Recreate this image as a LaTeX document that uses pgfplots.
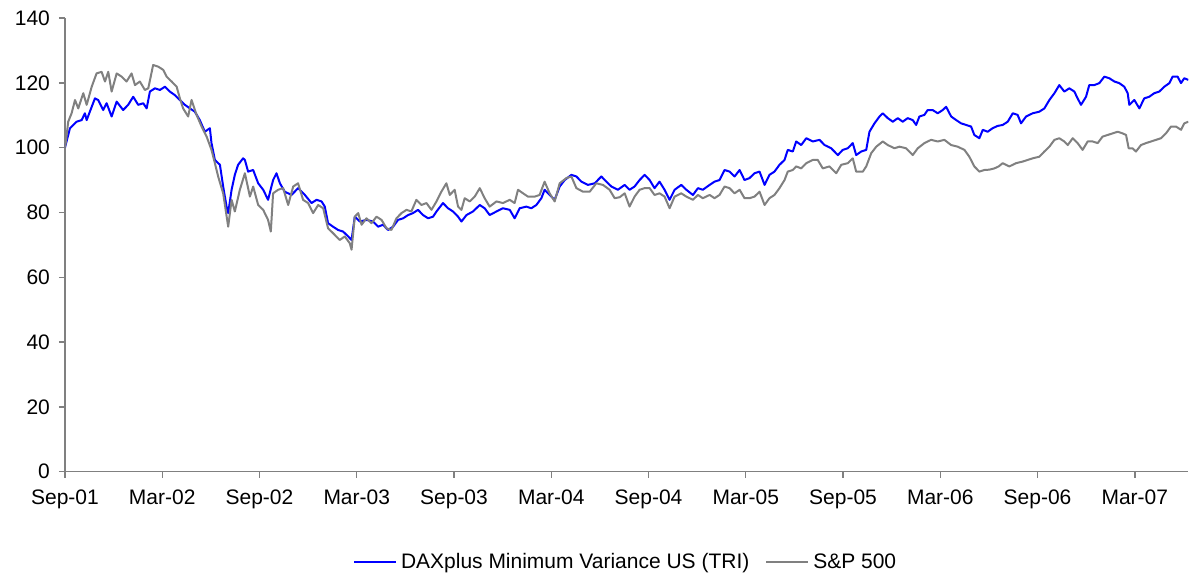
\documentclass[border=0pt]{standalone}
\usepackage{pgfplots}
\pgfplotsset{compat=1.18}
\usepackage{fontspec}
\setmainfont{Liberation Sans}
\definecolor{axgray}{RGB}{128,128,128}
\definecolor{spgray}{RGB}{128,128,128}
\definecolor{daxblue}{RGB}{0,0,255}
\begin{document}
\begin{tikzpicture}
\begin{axis}[
  scale only axis,
  width=562pt, height=227pt,
  xmin=0, xmax=69.3, ymin=0, ymax=140,
  axis x line=bottom, axis y line=left,
  axis line style={-, draw=axgray, line width=0.7pt},
  every tick/.style={draw=axgray, line width=0.7pt},
  tick align=outside, major tick length=3pt,
  xtick={0,6,...,66},
  xticklabels={Sep-01,Mar-02,Sep-02,Mar-03,Sep-03,Mar-04,Sep-04,Mar-05,Sep-05,Mar-06,Sep-06,Mar-07},
  ytick={0,20,...,140},
  /pgf/number format/assume math mode=true,
  ticklabel style={font=\fontsize{10.5}{12}\selectfont},
  xticklabel style={yshift=-2.5pt},
  yticklabel style={xshift=-1pt},
  legend style={at={(0.5,-0.2)}, anchor=center, draw=none, fill=none,
    legend columns=2, font=\fontsize{10.5}{12}\selectfont,
    /tikz/every even column/.append style={column sep=6pt},
    inner sep=0pt},
  legend image code/.code={\draw[#1] (0pt,0pt) -- (21pt,0pt);},
]
\coordinate (bl) at (rel axis cs:0,0);
\coordinate (tr) at (rel axis cs:1,1);
\addplot[daxblue, line width=1pt, line join=round] coordinates {
(0,100) (0.31,106) (0.72,108) (1.03,108.5) (1.23,110.6) (1.34,108.5) (1.65,112.6) (1.85,115.2)
(2.05,114.7) (2.36,111.6) (2.57,113.7) (2.88,109.6) (3.19,114.2) (3.59,111.6) (3.90,113.2)
(4.21,115.7) (4.52,113.2) (4.83,113.7) (5.04,112.1) (5.24,117.3) (5.55,118.3) (5.86,117.8)
(6.17,118.8) (6.47,117.3) (6.78,116.2) (7.09,114.7) (7.40,113.2) (7.71,112.1) (8.01,111.1)
(8.32,108.5) (8.63,104.9) (8.94,106) (9.04,101.4) (9.25,96.2) (9.56,94.7) (9.76,88)
(9.97,81.8) (10.07,79.8) (10.28,87) (10.48,91.6) (10.68,94.7) (10.99,96.7) (11.10,96.2)
(11.30,92.6) (11.61,93.1) (11.92,89) (12.23,87) (12.53,83.9) (12.84,90) (13.05,92.1)
(13.26,89) (13.56,86.4) (13.98,85.4) (14.38,87.5) (14.80,85.4) (15.21,82.9) (15.52,83.9)
(15.83,83.4) (16.03,81.8) (16.23,76.7) (16.54,75.6) (16.85,74.6) (17.16,74.1) (17.47,72.6)
(17.68,71.5) (17.88,78.7) (18.19,77.2) (18.60,77.7) (19.01,77.2) (19.32,75.6) (19.62,76.2)
(19.93,74.6) (20.24,75.6) (20.55,77.7) (20.86,78.2) (21.17,79.2) (21.47,79.8) (21.78,80.8)
(22.09,79.2) (22.40,78.2) (22.71,78.7) (22.92,80.3) (23.32,82.9) (23.63,81.3) (23.94,80.3)
(24.25,78.7) (24.46,77.2) (24.77,79.2) (25.17,80.3) (25.59,82.3) (25.89,81.3) (26.20,79.2)
(26.62,80.3) (27.02,81.3) (27.44,80.8) (27.74,78.2) (28.05,81.3) (28.46,81.8) (28.77,81.3)
(29.08,82.3) (29.39,84.4) (29.59,87) (29.90,85.4) (30.21,83.9) (30.52,88) (30.83,90)
(31.24,91.6) (31.55,91.1) (31.86,89.5) (32.26,88.5) (32.68,89) (33.09,91.1) (33.40,89.5)
(33.71,88) (34.11,87) (34.53,88.5) (34.83,87) (35.14,88) (35.45,90) (35.76,91.6) (36.07,90)
(36.37,87.5) (36.68,89.5) (36.99,87) (37.30,83.9) (37.61,87) (38.02,88.5) (38.33,87)
(38.74,85.4) (39.05,87.5) (39.35,87) (39.77,88.5) (40.07,89.5) (40.38,90) (40.69,93.1)
(41.00,92.6) (41.31,91.1) (41.62,93.1) (41.92,90) (42.23,90.6) (42.54,92.1) (42.85,92.6)
(43.16,88.5) (43.46,91.6) (43.77,92.6) (44.08,94.7) (44.39,96.2) (44.59,99.3) (44.90,98.8)
(45.11,101.9) (45.42,100.8) (45.73,102.9) (46.13,101.9) (46.55,102.4) (46.86,100.8)
(47.27,99.8) (47.68,97.7) (47.98,99.3) (48.29,99.8) (48.60,101.4) (48.81,97.7) (49.12,98.8)
(49.43,99.3) (49.63,104.9) (49.94,107.5) (50.25,109.6) (50.45,110.6) (50.76,109.1)
(51.07,108) (51.38,109.1) (51.68,108) (51.99,109.1) (52.30,108.5) (52.51,107) (52.71,109.6)
(53.02,110.1) (53.22,111.6) (53.53,111.6) (53.84,110.6) (54.15,111.6) (54.36,112.6)
(54.67,109.6) (54.98,108.5) (55.28,107.5) (55.59,107) (55.90,106.5) (56.10,103.9)
(56.41,102.9) (56.62,105.5) (56.92,104.9) (57.23,106) (57.54,106.7) (57.85,107) (58.16,108)
(58.47,110.6) (58.77,110.1) (58.98,107.5) (59.29,109.6) (59.70,110.6) (60.11,111.1)
(60.42,112.1) (60.73,114.7) (61.04,116.8) (61.34,119.3) (61.65,117.3) (61.96,118.3)
(62.27,117.3) (62.47,115.2) (62.68,113.2) (62.99,115.7) (63.19,119.3) (63.50,119.3)
(63.81,119.9) (64.12,121.9) (64.43,121.4) (64.74,120.4) (65.04,119.9) (65.35,118.8)
(65.56,116.8) (65.66,113.2) (65.97,114.7) (66.28,112.1) (66.58,115.2) (66.89,115.7)
(67.20,116.8) (67.51,117.3) (67.82,118.8) (68.13,119.9) (68.33,121.9) (68.64,121.9)
(68.85,119.9) (69.05,121.4) (69.3,120.9)
};
\addlegendentry{DAXplus Minimum Variance US (TRI)}
\addplot[spgray, line width=1pt, line join=round] coordinates {
(0,100) (0.06,101.9) (0.20,108) (0.41,110.6) (0.62,114.7) (0.82,112.1) (1.13,116.8)
(1.34,113.2) (1.65,118.8) (1.95,122.9) (2.26,123.4) (2.47,120.4) (2.67,123.4) (2.88,117.3)
(3.19,122.9) (3.50,121.9) (3.80,120.4) (4.11,122.9) (4.32,119.3) (4.62,120.4) (4.93,117.8)
(5.14,118.3) (5.44,125.5) (5.75,125) (6.06,124) (6.27,121.9) (6.58,120.4) (6.89,118.8)
(7.09,115.2) (7.29,112.1) (7.60,109.6) (7.81,114.7) (8.12,110.1) (8.43,106.5) (8.74,103.4)
(9.04,99.3) (9.25,95.2) (9.45,91.1) (9.76,85.9) (10.07,75.6) (10.28,83.9) (10.48,80.3)
(10.79,87) (11.10,92.1) (11.41,84.9) (11.61,88) (11.92,82.3) (12.23,80.8) (12.53,77.7)
(12.70,74.1) (12.84,85.9) (13.15,87) (13.46,87.5) (13.77,82.3) (14.08,88) (14.38,89)
(14.69,83.9) (15.00,82.9) (15.31,79.8) (15.62,82.3) (15.93,81.3) (16.23,75.1) (16.54,73.6)
(16.95,71.5) (17.26,72.6) (17.57,70.5) (17.68,68.5) (17.88,78.7) (18.09,79.8) (18.30,76.2)
(18.60,78.2) (18.91,76.7) (19.22,78.7) (19.53,77.7) (19.84,75.1) (20.14,74.6) (20.45,78.2)
(20.76,79.8) (21.07,80.8) (21.37,80.3) (21.68,83.9) (21.99,82.3) (22.30,82.9) (22.61,80.8)
(22.92,83.4) (23.22,86.4) (23.53,89) (23.74,85.4) (24.04,87) (24.25,81.8) (24.46,80.8)
(24.66,84.4) (24.97,83.4) (25.28,84.9) (25.59,87.5) (25.89,84.4) (26.20,81.8) (26.62,83.4)
(27.02,82.9) (27.44,83.9) (27.74,82.9) (27.95,87) (28.26,85.9) (28.56,84.9) (28.98,84.9)
(29.28,85.4) (29.59,89.5) (29.90,85.9) (30.21,83.4) (30.52,89) (30.93,90.6) (31.24,91.1)
(31.55,87.5) (31.96,86.4) (32.37,86.4) (32.78,89) (33.19,88.5) (33.60,87) (33.91,84.4)
(34.22,84.7) (34.53,85.9) (34.83,81.8) (35.14,84.9) (35.45,87) (35.76,87.5) (36.07,87.5)
(36.37,85.4) (36.68,85.9) (36.99,84.9) (37.30,81.3) (37.61,84.9) (38.02,85.9) (38.33,84.9)
(38.74,83.9) (39.05,85.4) (39.35,84.4) (39.77,85.4) (40.07,84.4) (40.38,85.4) (40.69,88)
(41.00,87.5) (41.31,85.9) (41.62,87) (41.92,84.4) (42.23,84.4) (42.54,84.9) (42.85,86.4)
(43.16,82.3) (43.46,84.4) (43.77,85.4) (44.08,87.5) (44.39,90) (44.59,92.6) (44.90,93.1)
(45.11,94.2) (45.42,93.6) (45.73,95.2) (46.13,96.2) (46.44,96.2) (46.75,93.6) (47.16,94.2)
(47.58,92.1) (47.89,94.7) (48.29,95.2) (48.60,96.7) (48.81,92.6) (49.22,92.6) (49.43,94.2)
(49.74,98.3) (50.05,100.3) (50.45,101.9) (50.76,100.8) (51.17,99.8) (51.48,100.3)
(51.89,99.8) (52.30,97.7) (52.61,99.8) (53.02,101.4) (53.43,102.4) (53.84,101.9)
(54.25,102.4) (54.67,100.8) (55.07,100.3) (55.49,99.3) (55.79,97.2) (56.10,94.2) (56.41,92.6)
(56.72,93.1) (57.03,93.2) (57.34,93.6) (57.60,94.2) (57.85,95.2) (58.26,94.2) (58.67,95.2)
(59.08,95.7) (59.39,96.2) (59.70,96.7) (60.11,97.2) (60.42,98.8) (60.73,100.3) (61.04,102.4)
(61.34,102.9) (61.65,101.9) (61.86,100.8) (62.17,102.9) (62.47,101.4) (62.78,99.3)
(63.09,101.9) (63.40,101.9) (63.71,101.4) (64.01,103.4) (64.32,103.9) (64.63,104.4)
(64.94,104.9) (65.25,104.4) (65.46,103.9) (65.62,99.8) (65.86,99.8) (66.07,98.8)
(66.38,100.8) (66.69,101.4) (67.00,101.9) (67.31,102.4) (67.61,102.9) (67.92,104.4)
(68.23,106.5) (68.54,106.5) (68.85,105.5) (69.05,107.5) (69.3,108)
};
\addlegendentry{S\&P 500}
\end{axis}
\path (bl) ++(-32.5pt,-51pt) coordinate (bbsw);
\path (tr) ++(0pt,9pt) coordinate (bbne);
\path (bbsw) rectangle (bbne);
\end{tikzpicture}
\end{document}
